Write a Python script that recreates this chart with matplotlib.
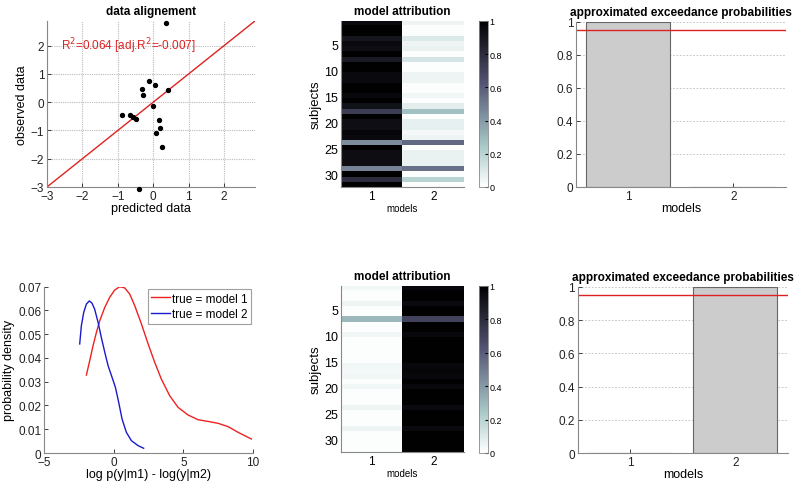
import matplotlib
matplotlib.use('Agg')
import matplotlib.pyplot as plt
import numpy as np

plt.rcParams['font.family'] = ['Liberation Sans', 'DejaVu Sans']
plt.rcParams['font.size'] = 8.5
plt.rcParams['xtick.direction'] = 'in'
plt.rcParams['ytick.direction'] = 'in'
plt.rcParams['xtick.major.pad'] = 2
plt.rcParams['ytick.major.pad'] = 2

# data alignment scatter
pred = [0.35, -0.12, 0.04, -0.33, -0.30, 0.42, -0.02, -0.89,
        -0.65, -0.58, -0.49, 0.16, 0.20, 0.09, 0.26, -0.39]
obs = [2.81, 0.75, 0.60, 0.48, 0.25, 0.42, -0.12, -0.44,
       -0.44, -0.52, -0.58, -0.64, -0.93, -1.10, -1.60, -3.07]
r2_text = r'R$^2$=0.064 [adj.R$^2$=-0.007]'

# model-2 attribution per subject (model 1 = 1 - p2)
p2_top = [0.05, 0.01, 0.01, 0.10, 0.05, 0.06, 0.01, 0.12,
          0.01, 0.01, 0.05, 0.05, 0.01, 0.01, 0.04, 0.01,
          0.08, 0.27, 0.01, 0.07, 0.07, 0.03, 0.05, 0.56,
          0.01, 0.06, 0.06, 0.06, 0.53, 0.01, 0.20, 0.01]
p1_bottom = [0.04, 0.01, 0.01, 0.05, 0.01, 0.01, 0.30, 0.01,
             0.01, 0.04, 0.01, 0.01, 0.01, 0.01, 0.01, 0.04,
             0.03, 0.04, 0.01, 0.04, 0.01, 0.01, 0.01, 0.05,
             0.01, 0.01, 0.01, 0.05, 0.01, 0.01, 0.01, 0.01]

# exceedance probabilities
models = [1, 2]
ep_top = [1.0, 0.0]
ep_bottom = [0.0, 1.0]

# densities of log Bayes factor
x_m1 = [-1.96, -1.72, -1.48, -1.24, -1.00, -0.64, -0.29, 0.07, 0.43, 0.79,
        1.15, 1.51, 1.99, 2.47, 2.94, 3.42, 4.02, 4.62, 5.34, 6.06, 6.77,
        7.49, 8.21, 8.93, 9.88]
d_m1 = [0.0328, 0.0389, 0.0452, 0.0508, 0.0557, 0.0613, 0.0655, 0.0686,
        0.0700, 0.0695, 0.0669, 0.0620, 0.0543, 0.0459, 0.0382, 0.0311,
        0.0241, 0.0192, 0.0160, 0.0140, 0.0133, 0.0125, 0.0111, 0.0087,
        0.0059]
x_m2 = [-2.44, -2.32, -2.15, -1.96, -1.75, -1.56, -1.37, -1.12, -0.89,
        -0.64, -0.40, -0.12, 0.12, 0.36, 0.60, 0.91, 1.27, 1.75, 2.15]
d_m2 = [0.0459, 0.0536, 0.0592, 0.0627, 0.0640, 0.0631, 0.0606, 0.0550,
        0.0487, 0.0424, 0.0367, 0.0319, 0.0277, 0.0213, 0.0143, 0.0087,
        0.0052, 0.0031, 0.0020]

fig = plt.figure(figsize=(7.99, 4.85), dpi=100)


def style_axes(ax):
    for s in ['top', 'right']:
        ax.spines[s].set_visible(False)
    for s in ['left', 'bottom']:
        ax.spines[s].set_color('#888888')
    ax.tick_params(colors='#222222', length=3, width=0.6)


# scatter
ax1 = fig.add_axes([0.0588, 0.6124, 0.2603, 0.3423])
ax1.plot([-3, 2.87], [-3, 2.87], color='#dd2222', lw=1)
ax1.scatter(pred, obs, s=8, color='black', zorder=3, clip_on=False)
ax1.set_xlim(-3, 2.87)
ax1.set_ylim(-3, 2.87)
ax1.set_xticks([-3, -2, -1, 0, 1, 2])
ax1.set_yticks([-3, -2, -1, 0, 1, 2])
ax1.grid(True, color='#bbbbbb', ls=(0, (1, 1)), lw=0.8)
ax1.text(-2.6, 2.0, r2_text, color='#dd2222', fontsize=8.5, va='center')
ax1.set_title('data alignement', fontweight='bold', fontsize=8.5, pad=5)
ax1.set_xlabel('predicted data', fontsize=9, labelpad=0)
ax1.set_ylabel('observed data', fontsize=9, labelpad=2)
style_axes(ax1)


def heatmap(rect, cbrect, mat):
    ax = fig.add_axes(rect)
    im = ax.imshow(mat, cmap='bone_r', vmin=0, vmax=1, aspect='auto',
                   extent=[0.5, 2.5, 32.5, 0.5], interpolation='nearest')
    ax.set_xticks([1, 2])
    ax.set_yticks([5, 10, 15, 20, 25, 30])
    ax.tick_params(axis='y', labelsize=9, length=0)
    ax.tick_params(axis='x', length=0)
    ax.set_title('model attribution', fontweight='bold', fontsize=8.5, pad=5)
    ax.set_xlabel('models', fontsize=7, labelpad=1)
    ax.set_ylabel('subjects', fontsize=9.5, labelpad=2)
    for s in ax.spines.values():
        s.set_visible(False)
    ax.spines['left'].set_visible(True)
    ax.spines['bottom'].set_visible(True)
    ax.spines['left'].set_color('#888888')
    ax.spines['bottom'].set_color('#888888')
    cax = fig.add_axes(cbrect)
    cb = fig.colorbar(im, cax=cax, ticks=[0, 0.2, 0.4, 0.6, 0.8, 1])
    cb.ax.set_yticklabels(['0', '0.2', '0.4', '0.6', '0.8', '1'])
    cb.ax.tick_params(labelsize=6.5, length=2, direction='in', pad=1)
    cb.outline.set_edgecolor('#888888')
    cb.outline.set_linewidth(0.6)


p2t = np.array(p2_top)
heatmap([0.4268, 0.6124, 0.1539, 0.3423], [0.5995, 0.6124, 0.0113, 0.3423],
        np.column_stack([1 - p2t, p2t]))
p1b = np.array(p1_bottom)
heatmap([0.4268, 0.0660, 0.1539, 0.3423], [0.5995, 0.0640, 0.0113, 0.3443],
        np.column_stack([p1b, 1 - p1b]))


def ep_plot(rect, vals):
    ax = fig.add_axes(rect)
    ax.bar(models, vals, width=0.8, color='#cccccc', edgecolor='#666666', lw=0.8)
    ax.axhline(0.95, color='#dd2222', lw=1)
    ax.set_xlim(0.5, 2.5)
    ax.set_ylim(0, 1)
    ax.set_xticks(models)
    ax.set_yticks([0, 0.2, 0.4, 0.6, 0.8, 1])
    ax.set_yticklabels(['0', '0.2', '0.4', '0.6', '0.8', '1'])
    ax.yaxis.grid(True, color='#bbbbbb', ls=(0, (2, 2)), lw=0.6)
    ax.set_axisbelow(True)
    ax.set_title('approximated exceedance probabilities', fontweight='bold',
                 fontsize=8.5, pad=5)
    ax.set_xlabel('models', fontsize=9, labelpad=0)
    style_axes(ax)


ep_plot([0.7209, 0.6124, 0.2628, 0.3408], ep_top)
ep_plot([0.7230, 0.0639, 0.2632, 0.3423], ep_bottom)

# densities
ax4 = fig.add_axes([0.0551, 0.0639, 0.2616, 0.3429])
ax4.plot(x_m1, d_m1, color='#ee2222', lw=1, label='true = model 1')
ax4.plot(x_m2, d_m2, color='#1a1acc', lw=1, label='true = model 2')
ax4.set_xlim(-5, 10)
ax4.set_ylim(0, 0.07)
ax4.set_xticks([-5, 0, 5, 10])
ax4.set_yticks([0, 0.01, 0.02, 0.03, 0.04, 0.05, 0.06, 0.07])
ax4.set_yticklabels(['0', '0.01', '0.02', '0.03', '0.04', '0.05', '0.06', '0.07'])
ax4.set_xlabel('log p(y|m1) - log(y|m2)', fontsize=9, labelpad=0)
ax4.set_ylabel('probability density', fontsize=9, labelpad=2)
leg = ax4.legend(loc='upper right', fontsize=8.5, frameon=True, fancybox=False,
                 borderpad=0.3, handlelength=1.6, handletextpad=0.1,
                 borderaxespad=0.2, labelspacing=0.3)
leg.get_frame().set_edgecolor('#888888')
leg.get_frame().set_linewidth(0.8)
style_axes(ax4)

fig.savefig('out.png', dpi=100)
